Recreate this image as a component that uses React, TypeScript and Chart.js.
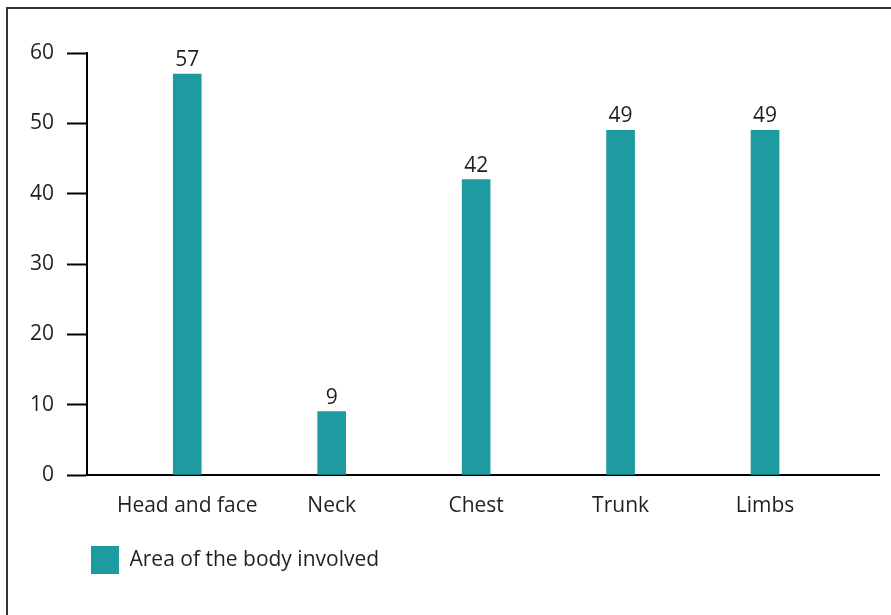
import React, { useEffect, useRef } from "react";
import { Chart, registerables } from "chart.js";

Chart.register(...registerables);

const categories = ["Head and face", "Neck", "Chest", "Trunk", "Limbs"];
const values = [57, 9, 42, 49, 49];
const yTicks = [0, 10, 20, 30, 40, 50, 60];
const seriesLabel = "Area of the body involved";

const barColor = "#1e9ba0";
const textColor = "#231f20";
const FONT = "'Open Sans', sans-serif";
const FONT_SIZE = 21;

const valueLabels = {
  id: "valueLabels",
  afterDatasetsDraw(chart: any) {
    const ctx = chart.ctx;
    const meta = chart.getDatasetMeta(0);
    ctx.save();
    ctx.font = `${FONT_SIZE}px ${FONT}`;
    ctx.fillStyle = textColor;
    ctx.textAlign = "center";
    ctx.textBaseline = "alphabetic";
    meta.data.forEach((el: any, i: number) => {
      ctx.fillText(String(values[i]), el.x, el.y - 8);
    });
    ctx.restore();
  },
};

export default function App() {
  const ref = useRef<HTMLCanvasElement>(null);

  useEffect(() => {
    if (!ref.current) return;
    const chart = new Chart(ref.current, {
      type: "bar",
      data: {
        datasets: [
          {
            label: seriesLabel,
            data: values.map((v, i) => ({ x: i, y: v })),
            backgroundColor: barColor,
            borderWidth: 0,
            barThickness: 28,
          },
        ],
      },
      options: {
        animation: false,
        responsive: false,
        maintainAspectRatio: false,
        layout: { padding: { left: 0, right: 12, top: 53, bottom: 31 } },
        plugins: {
          legend: {
            position: "bottom",
            align: "start",
            fullSize: false,
            labels: {
              boxWidth: 28,
              boxHeight: 28,
              padding: 4,
              color: textColor,
              font: { family: FONT, size: FONT_SIZE },
            },
          },
          tooltip: { enabled: false },
        },
        scales: {
          x: {
            type: "linear",
            offset: false,
            min: -0.694,
            max: 4.789,
            grid: { display: false, offset: false },
            border: { display: true, color: "#000", width: 2 },
            ticks: {
              color: textColor,
              font: { family: FONT, size: FONT_SIZE },
              padding: 10,
              maxRotation: 0,
              autoSkip: false,
              callback: (v: any) => categories[v as number] ?? "",
            },
            afterBuildTicks: (scale: any) => {
              scale.ticks = categories.map((_, i) => ({ value: i }));
            },
            afterFit: (scale: any) => {
              scale.height = 67;
            },
          },
          y: {
            type: "linear",
            min: 0,
            max: 60,
            grid: {
              display: true,
              drawOnChartArea: false,
              drawTicks: true,
              tickLength: 20,
              tickWidth: 2,
              tickColor: "#000",
            },
            border: { display: true, color: "#000", width: 2 },
            ticks: {
              color: textColor,
              font: { family: FONT, size: FONT_SIZE },
              padding: 13,
            },
            afterBuildTicks: (scale: any) => {
              scale.ticks = yTicks.map((v) => ({ value: v }));
            },
            afterFit: (scale: any) => {
              scale.width = 87;
            },
          },
        },
      },
      plugins: [valueLabels],
    });
    return () => chart.destroy();
  }, []);

  return (
    <div
      style={{
        position: "absolute",
        left: 0,
        top: 0,
        width: 891,
        height: 615,
        overflow: "hidden",
        background: "#fff",
      }}
    >
      <div
        style={{
          position: "absolute",
          left: 6,
          top: 7,
          width: 1000,
          height: 1000,
          borderTop: "2px solid #333",
          borderLeft: "2px solid #333",
        }}
      />
      <canvas
        ref={ref}
        width={891}
        height={615}
        style={{ position: "absolute", left: 0, top: 0, width: 891, height: 615 }}
      />
    </div>
  );
}
